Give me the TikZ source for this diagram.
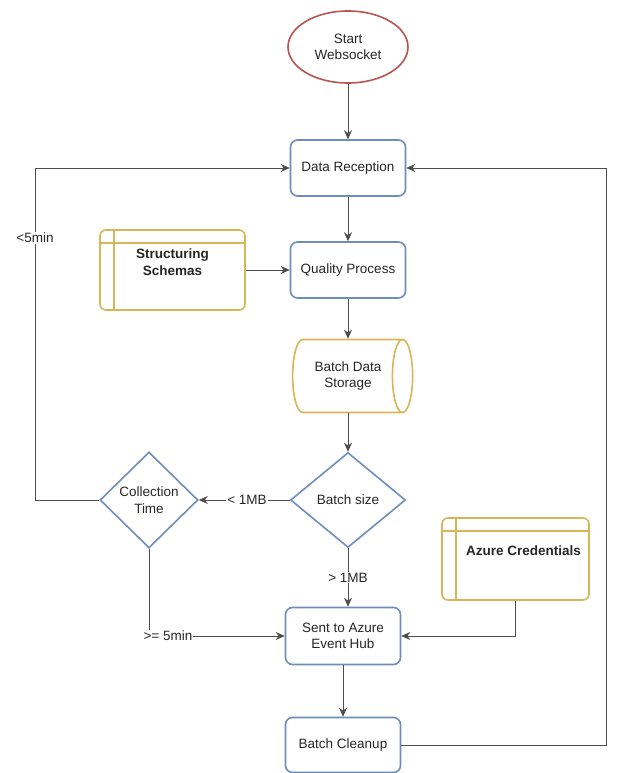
\documentclass[tikz,border=0pt]{standalone}
\usepackage{fontspec}
\setmainfont{Liberation Sans}
\usepackage{xcolor}
\usepackage{tikz}
\usetikzlibrary{shapes.geometric,arrows.meta}

\definecolor{procblue}{HTML}{6C8EBF}
\definecolor{storegold}{HTML}{D6B656}
\definecolor{startred}{HTML}{B85450}
\definecolor{wiregray}{HTML}{4D4D4D}

\newcommand{\storepad}{\rule[-16pt]{0pt}{16pt}}

\begin{document}
\begin{tikzpicture}[x=1pt, y=-1pt, >={Stealth[length=9pt,width=8pt]},
    font=\fontsize{13.5}{16.5}\selectfont, text=black!85,
    proc/.style={rectangle, rounded corners=7pt, draw=procblue, line width=1.6pt,
        minimum width=115pt, minimum height=56pt, inner sep=1pt, align=center},
    store/.style={rectangle, rounded corners=6pt, draw=storegold, line width=1.6pt,
        inner sep=1pt, align=center, font=\fontsize{13.5}{16.5}\selectfont\bfseries},
    decide/.style={diamond, draw=procblue, line width=1.6pt, inner sep=0pt, align=center},
    wire/.style={draw=wiregray, line width=0.9pt},
    lbl/.style={fill=white, inner sep=1pt}]
    \useasboundingbox (0,0) rectangle (621,773);

    		\node (start)[ellipse, draw = startred, line width=1.6pt, minimum width=120pt, minimum height=72pt, inner sep=0pt, align=center] at (348,47) {Start\\Websocket};
    		
    		\node (dr)[proc] at (348,168) {Data Reception};
    		\node (qp)[proc] at (348,270) {Quality Process};
    		\node (bds)[cylinder, draw = storegold, line width=1.6pt, minimum width=73pt, minimum height=120pt, aspect=0.65, inner sep=1pt, align=center] at (346,376) {\hspace*{4pt}Batch Data\\\hspace*{4pt}Storage};
    		
    		\node (bs)[decide, minimum width=115pt, minimum height=95pt] at (348,500) {Batch size};
    		\node (ct)[decide, minimum width=98pt, minimum height=96pt] at (149,500) {Collection\\Time};
    		
    		\node (sent)[proc, minimum height=57pt] at (343,636) {Sent to Azure\\Event Hub};
    		\node (bc)[proc, minimum height=55pt] at (343,745) {Batch Cleanup};
    		
    		\node (ss)[store, minimum width=145pt, minimum height=80pt] at (172.5,270) {Structuring\\Schemas\storepad};
    		\node (ac)[store, minimum width=147pt, minimum height=82pt] at (515.5,559) {\hspace*{16pt}Azure Credentials\storepad};
    		
    		% inner lines of the two stores
    		\draw[storegold, line width=1.6pt] ([yshift=-14pt]ss.north west) -- ([yshift=-14pt]ss.north east);
    		\draw[storegold, line width=1.6pt] ([xshift=15pt]ss.north west) -- ([xshift=15pt]ss.south west);
    		\draw[storegold, line width=1.6pt] ([yshift=-14pt]ac.north west) -- ([yshift=-14pt]ac.north east);
    		\draw[storegold, line width=1.6pt] ([xshift=15pt]ac.north west) -- ([xshift=15pt]ac.south west);
    		
    		\coordinate (lbend) at (35,500);
    		\coordinate (rbend) at (606,745);
    		
    		\draw[wire, ->] (start) -- (dr);
    		\draw[wire, ->] (dr) -- (qp);
    		\draw[wire, ->] (ss) -- (qp);
    		\draw[wire, ->] (qp.south) -- (qp.south |- bds.north);
    		\draw[wire, ->] (bs.north |- bds.south) -- (bs.north);
    		
    		\draw[wire, ->] (bs.west) -- node[lbl, pos=0.47] {< 1MB} (ct.east);
    		\draw[wire, ->] (bs.south) -- node[lbl] {> 1MB} (bs.south |- sent.north);
    		
    		\draw[wire, ->] (ct.west) -- (lbend) |- node[lbl, pos=0.395] {<5min} (dr.west);
    		\draw[wire, ->] (ct.south) |- node[lbl, pos=0.57] {>= 5min} (sent.west);
    		
    		\draw[wire, ->] (ac.south) |- (sent.east);
    		\draw[wire, ->] (sent) -- (bc);
    		\draw[wire, ->] (bc.east) -- (rbend) |- (dr.east);
    	\end{tikzpicture}
\end{document}
